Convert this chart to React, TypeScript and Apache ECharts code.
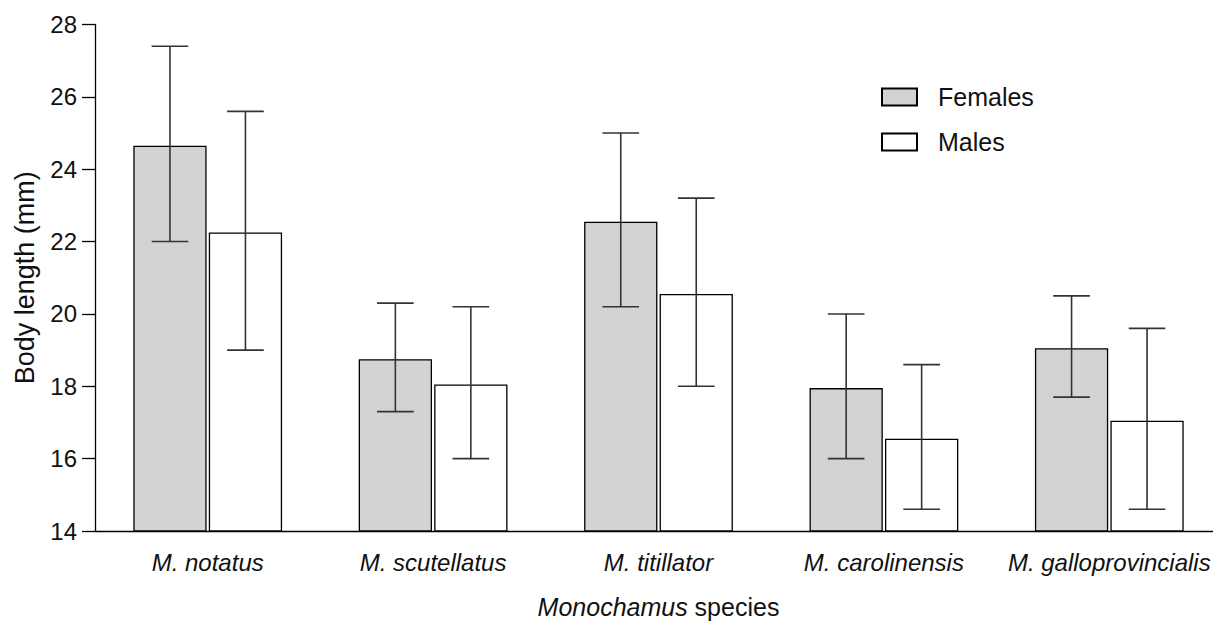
import React, { useEffect, useRef } from "react";
import * as echarts from "echarts";

const species = ["M. notatus", "M. scutellatus", "M. titillator", "M. carolinensis", "M. galloprovincialis"];
const femaleMean = [24.65, 18.75, 22.55, 17.95, 19.05];
const maleMean = [22.25, 18.05, 20.55, 16.55, 17.05];
const femaleLow = [22.0, 17.3, 20.2, 16.0, 17.7];
const femaleHigh = [27.4, 20.3, 25.0, 20.0, 20.5];
const maleLow = [19.0, 16.0, 18.0, 14.6, 14.6];
const maleHigh = [25.6, 20.2, 23.2, 18.6, 19.6];
const yTicks = { min: 14, max: 28, interval: 2 };

const FONT = "'Liberation Sans', Arial, sans-serif";
const CAT_GAP = 0.34;
const BAR_GAP = 0.03;

function errorRender(side: number) {
  return (params: any, api: any) => {
    const cat = api.value(0);
    const lo = api.coord([cat, api.value(1)]);
    const hi = api.coord([cat, api.value(2)]);
    const band = api.size([1, 0])[0];
    const bw = (band * (1 - CAT_GAP)) / (2 + BAR_GAP);
    const gap = bw * BAR_GAP;
    const x = lo[0] + side * (bw + gap) / 2;
    const half = bw / 4;
    const style = { stroke: "#333", lineWidth: 1.6 };
    return {
      type: "group",
      children: [
        { type: "line", shape: { x1: x, y1: lo[1], x2: x, y2: hi[1] }, style },
        { type: "line", shape: { x1: x - half, y1: lo[1], x2: x + half, y2: lo[1] }, style },
        { type: "line", shape: { x1: x - half, y1: hi[1], x2: x + half, y2: hi[1] }, style },
      ],
    };
  };
}

export default function App() {
  const ref = useRef<HTMLDivElement>(null);
  useEffect(() => {
    if (!ref.current) return;
    const chart = echarts.init(ref.current, undefined, { renderer: "svg" });
    const fErr = species.map((_, i) => [i, femaleLow[i], femaleHigh[i]]);
    const mErr = species.map((_, i) => [i, maleLow[i], maleHigh[i]]);
    chart.setOption({
      animation: false,
      backgroundColor: "#fff",
      textStyle: { fontFamily: FONT },
      grid: {
        left: 95,
        right: -9,
        top: 24.5,
        bottom: 90,
        containLabel: false,
        outerBoundsMode: "none",
      },
      legend: {
        data: ["Females", "Males"],
        orient: "vertical",
        left: 876,
        top: 79.5,
        itemWidth: 35,
        itemHeight: 17,
        itemGap: 20,
        icon: "rect",
        textStyle: { fontSize: 25, color: "#111", fontFamily: FONT, padding: [0, 0, 0, 16] },
      },
      xAxis: {
        type: "category",
        data: species,
        axisLine: { lineStyle: { color: "#000", width: 1.3 } },
        axisTick: { alignWithLabel: true, interval: 0, length: 13, lineStyle: { color: "#000", width: 1.3 } },
        axisLabel: {
          interval: 0,
          hideOverlap: false,
          fontSize: 24,
          fontStyle: "italic",
          color: "#111",
          margin: 19,
          fontFamily: FONT,
        },
        name: "{i|Monochamus} species",
        nameLocation: "middle",
        nameGap: 63,
        nameTextStyle: {
          fontSize: 25,
          color: "#111",
          fontFamily: FONT,
          rich: { i: { fontStyle: "italic", fontSize: 25, color: "#111", fontFamily: FONT } },
        },
      },
      yAxis: {
        type: "value",
        min: yTicks.min,
        max: yTicks.max,
        interval: yTicks.interval,
        axisLine: { show: true, lineStyle: { color: "#000", width: 1.3 } },
        axisTick: { show: true, length: 13, lineStyle: { color: "#000", width: 1.3 } },
        axisLabel: { fontSize: 24, color: "#111", margin: 18, fontFamily: FONT },
        splitLine: { show: false },
        name: "Body length (mm)",
        nameLocation: "middle",
        nameGap: 57,
        nameTextStyle: { fontSize: 27, color: "#111", fontFamily: FONT },
      },
      series: [
        {
          name: "Females",
          type: "bar",
          data: femaleMean,
          barCategoryGap: "34%",
          barGap: "3%",
          itemStyle: { color: "#d3d3d3", borderColor: "#000", borderWidth: 1.3 },
        },
        {
          name: "Males",
          type: "bar",
          data: maleMean,
          barCategoryGap: "34%",
          barGap: "3%",
          itemStyle: { color: "#fff", borderColor: "#000", borderWidth: 1.3 },
        },
        {
          name: "femErr",
          type: "custom",
          data: fErr,
          encode: { x: 0, y: [1, 2] },
          renderItem: errorRender(-1),
          z: 10,
        },
        {
          name: "maleErr",
          type: "custom",
          data: mErr,
          encode: { x: 0, y: [1, 2] },
          renderItem: errorRender(1),
          z: 10,
        },
      ],
    });
    return () => chart.dispose();
  }, []);
  return (
    <div
      ref={ref}
      style={{ position: "fixed", left: 0, top: 0, width: 1213, height: 621, background: "#fff" }}
    />
  );
}
